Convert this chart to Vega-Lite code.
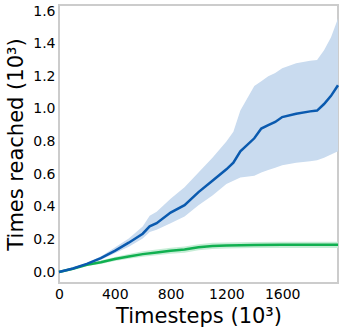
{
  "$schema": "https://vega.github.io/schema/vega-lite/v6.json",
  "width": 279,
  "height": 278,
  "autosize": "none",
  "padding": {"left": 59, "top": 5, "right": 6, "bottom": 52},
  "config": {
    "font": "DejaVu Sans",
    "view": {"stroke": "#cccccc", "strokeWidth": 2},
    "axis": {"grid": false, "domain": false, "ticks": false, "labelOverlap": false, "labelFlush": false, "labelColor": "#000000", "titleColor": "#000000", "labelFontSize": 14, "titleFontSize": 21, "titleFontWeight": "normal", "labelFont": "DejaVu Sans", "titleFont": "DejaVu Sans"}
  },
  "datasets": {
    "runs": [
      {"series": "blue", "t": 0, "mean": 0, "lo": 0, "hi": 0},
      {"series": "blue", "t": 100, "mean": 0.022, "lo": 0.018, "hi": 0.026},
      {"series": "blue", "t": 200, "mean": 0.05, "lo": 0.044, "hi": 0.057},
      {"series": "blue", "t": 300, "mean": 0.085, "lo": 0.075, "hi": 0.096},
      {"series": "blue", "t": 400, "mean": 0.13, "lo": 0.115, "hi": 0.15},
      {"series": "blue", "t": 500, "mean": 0.18, "lo": 0.155, "hi": 0.205},
      {"series": "blue", "t": 600, "mean": 0.235, "lo": 0.205, "hi": 0.28},
      {"series": "blue", "t": 650, "mean": 0.28, "lo": 0.245, "hi": 0.345},
      {"series": "blue", "t": 700, "mean": 0.3, "lo": 0.26, "hi": 0.37},
      {"series": "blue", "t": 800, "mean": 0.365, "lo": 0.3, "hi": 0.45},
      {"series": "blue", "t": 900, "mean": 0.41, "lo": 0.34, "hi": 0.52},
      {"series": "blue", "t": 1000, "mean": 0.49, "lo": 0.41, "hi": 0.61},
      {"series": "blue", "t": 1100, "mean": 0.56, "lo": 0.47, "hi": 0.7},
      {"series": "blue", "t": 1200, "mean": 0.63, "lo": 0.54, "hi": 0.8},
      {"series": "blue", "t": 1250, "mean": 0.67, "lo": 0.56, "hi": 0.86},
      {"series": "blue", "t": 1300, "mean": 0.74, "lo": 0.58, "hi": 0.99},
      {"series": "blue", "t": 1400, "mean": 0.82, "lo": 0.59, "hi": 1.14},
      {"series": "blue", "t": 1450, "mean": 0.88, "lo": 0.61, "hi": 1.17},
      {"series": "blue", "t": 1500, "mean": 0.9, "lo": 0.625, "hi": 1.2},
      {"series": "blue", "t": 1550, "mean": 0.92, "lo": 0.64, "hi": 1.22},
      {"series": "blue", "t": 1600, "mean": 0.95, "lo": 0.655, "hi": 1.25},
      {"series": "blue", "t": 1700, "mean": 0.97, "lo": 0.67, "hi": 1.28},
      {"series": "blue", "t": 1800, "mean": 0.985, "lo": 0.68, "hi": 1.295},
      {"series": "blue", "t": 1850, "mean": 0.99, "lo": 0.685, "hi": 1.3},
      {"series": "blue", "t": 1900, "mean": 1.03, "lo": 0.7, "hi": 1.36},
      {"series": "blue", "t": 1950, "mean": 1.08, "lo": 0.72, "hi": 1.44},
      {"series": "blue", "t": 2000, "mean": 1.145, "lo": 0.74, "hi": 1.555},
      {"series": "green", "t": 0, "mean": 0, "lo": 0, "hi": 0},
      {"series": "green", "t": 100, "mean": 0.02, "lo": 0.015, "hi": 0.025},
      {"series": "green", "t": 200, "mean": 0.045, "lo": 0.037, "hi": 0.053},
      {"series": "green", "t": 300, "mean": 0.06, "lo": 0.05, "hi": 0.071},
      {"series": "green", "t": 400, "mean": 0.08, "lo": 0.068, "hi": 0.093},
      {"series": "green", "t": 500, "mean": 0.095, "lo": 0.081, "hi": 0.11},
      {"series": "green", "t": 600, "mean": 0.11, "lo": 0.094, "hi": 0.127},
      {"series": "green", "t": 700, "mean": 0.12, "lo": 0.103, "hi": 0.138},
      {"series": "green", "t": 800, "mean": 0.13, "lo": 0.112, "hi": 0.149},
      {"series": "green", "t": 900, "mean": 0.138, "lo": 0.119, "hi": 0.157},
      {"series": "green", "t": 1000, "mean": 0.152, "lo": 0.133, "hi": 0.171},
      {"series": "green", "t": 1100, "mean": 0.16, "lo": 0.141, "hi": 0.179},
      {"series": "green", "t": 1200, "mean": 0.163, "lo": 0.144, "hi": 0.182},
      {"series": "green", "t": 1400, "mean": 0.166, "lo": 0.147, "hi": 0.185},
      {"series": "green", "t": 1600, "mean": 0.167, "lo": 0.148, "hi": 0.186},
      {"series": "green", "t": 1800, "mean": 0.167, "lo": 0.148, "hi": 0.186},
      {"series": "green", "t": 2000, "mean": 0.167, "lo": 0.148, "hi": 0.186}
    ]
  },
  "data": {"name": "runs"},
  "encoding": {
    "x": {
      "field": "t", "type": "quantitative",
      "scale": {"domain": [0, 2000], "nice": false, "zero": false},
      "axis": {"values": [0, 400, 800, 1200, 1600], "format": "d", "title": "Timesteps (10³)", "labelPadding": 4, "titlePadding": 4}
    },
    "y": {"field": "mean", "type": "quantitative", "scale": {"domain": [-0.067, 1.637], "nice": false, "zero": false},
      "axis": {"values": [0, 0.2, 0.4, 0.6, 0.8, 1.0, 1.2, 1.4, 1.6], "tickCount": 9, "format": ".1f", "title": "Times reached (10³)", "labelPadding": 4, "titlePadding": 6}}
  },
  "layer": [
    {
      "mark": {"type": "area", "opacity": 1},
      "encoding": {
        "y": {"field": "lo", "type": "quantitative", "scale": {"domain": [-0.067, 1.637], "nice": false, "zero": false},
          "axis": {"values": [0, 0.2, 0.4, 0.6, 0.8, 1.0, 1.2, 1.4, 1.6], "tickCount": 9, "format": ".1f", "title": "Times reached (10³)", "labelPadding": 4, "titlePadding": 6}},
        "y2": {"field": "hi"},
        "color": {"field": "series", "type": "nominal", "scale": {"domain": ["blue", "green"], "range": ["#c9dbef", "#c6edd6"]}, "legend": null}
      }
    },
    {
      "transform": [{"filter": "datum.series === 'green'"}],
      "mark": {"type": "line", "color": "#10b050", "strokeWidth": 2.5},
      "encoding": {}
    },
    {
      "transform": [{"filter": "datum.series === 'blue'"}],
      "mark": {"type": "line", "color": "#0a5aaf", "strokeWidth": 2.5},
      "encoding": {}
    }
  ]
}
